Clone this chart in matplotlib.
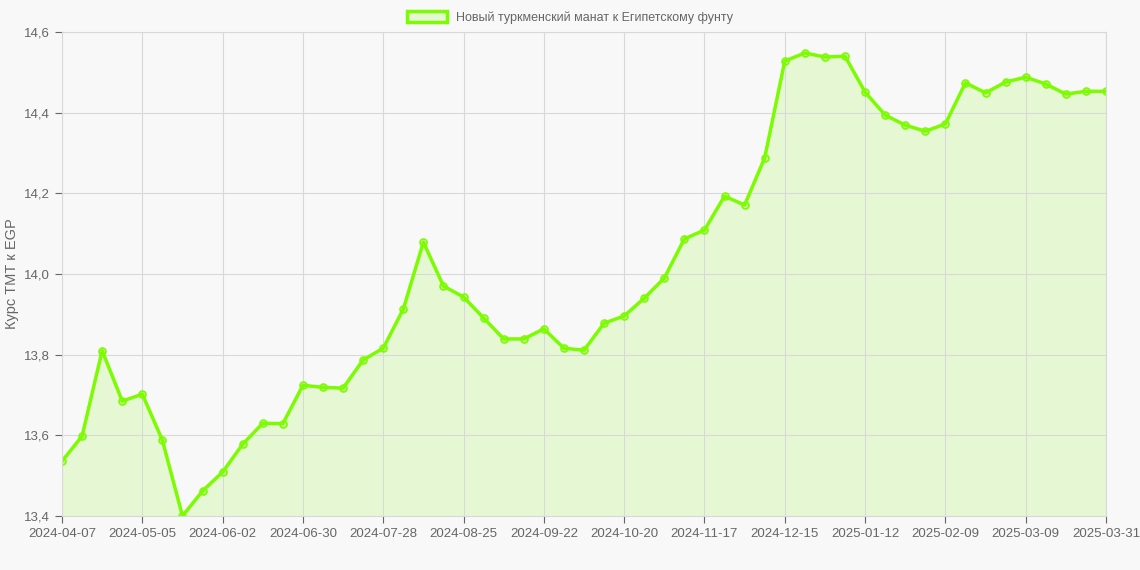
import matplotlib
matplotlib.use("Agg")
import matplotlib.pyplot as plt
from matplotlib.ticker import FuncFormatter

plt.rcParams['font.family'] = ['Liberation Sans', 'DejaVu Sans']

values = [13.536, 13.598, 13.81, 13.685, 13.702, 13.588, 13.40, 13.462, 13.509, 13.578,
          13.630, 13.629, 13.724, 13.719, 13.717, 13.787, 13.816, 13.913, 14.079, 13.970,
          13.943, 13.891, 13.839, 13.839, 13.864, 13.816, 13.811, 13.878, 13.896, 13.940,
          13.990, 14.087, 14.109, 14.193, 14.171, 14.288, 14.528, 14.548, 14.538, 14.540,
          14.451, 14.394, 14.369, 14.354, 14.372, 14.474, 14.449, 14.476, 14.488, 14.471,
          14.446, 14.453, 14.453]
tick_pos = [0, 4, 8, 12, 16, 20, 24, 28, 32, 36, 40, 44, 48, 52]
tick_labels = ["2024-04-07", "2024-05-05", "2024-06-02", "2024-06-30", "2024-07-28",
               "2024-08-25", "2024-09-22", "2024-10-20", "2024-11-17", "2024-12-15",
               "2025-01-12", "2025-02-09", "2025-03-09", "2025-03-31"]
label = "Новый туркменский манат к Египетскому фунту"

x = list(range(len(values)))
fig = plt.figure(figsize=(11.4, 5.7), dpi=100, facecolor="#f8f8f8")
ax = fig.add_axes([62/1140, 1-516/570, (1106-62)/1140, (516-32)/570])
ax.set_facecolor("#f8f8f8")
ax.fill_between(x, values, 13.4, color="#7cfc00", alpha=0.15, linewidth=0)
ax.plot(x, values, color="#7cfc00", linewidth=2.5, marker="o", markersize=5,
        markerfacecolor=(0.49, 0.99, 0, 0.25), markeredgewidth=1.2,
        markeredgecolor="#7cfc00", label=label)
ax.set_xlim(0, 52)
ax.set_ylim(13.4, 14.6)
ax.set_yticks([13.4, 13.6, 13.8, 14.0, 14.2, 14.4, 14.6])
ax.yaxis.set_major_formatter(FuncFormatter(lambda v, p: f"{v:.1f}".replace(".", ",")))
ax.set_xticks(tick_pos)
ax.set_xticklabels(tick_labels)
ax.tick_params(colors="#666666", labelsize=9.5, length=5)
ax.grid(color="#d8d8d8", linewidth=0.8)
for s in ax.spines.values():
    s.set_color("#d8d8d8")
ax.set_ylabel("Курс TMT к EGP", color="#666666", fontsize=10.5)
leg = fig.legend(handles=[plt.Rectangle((0, 0), 1, 1, facecolor=(0.49, 0.99, 0, 0.15),
                 edgecolor="#7cfc00", linewidth=2.5)], labels=[label],
                 loc="upper center", bbox_to_anchor=(0.5, 1.0), frameon=False,
                 fontsize=9, handlelength=3.2, handleheight=1.0)
for t in leg.get_texts():
    t.set_color("#666666")
fig.savefig("out.png", dpi=100, facecolor=fig.get_facecolor())
